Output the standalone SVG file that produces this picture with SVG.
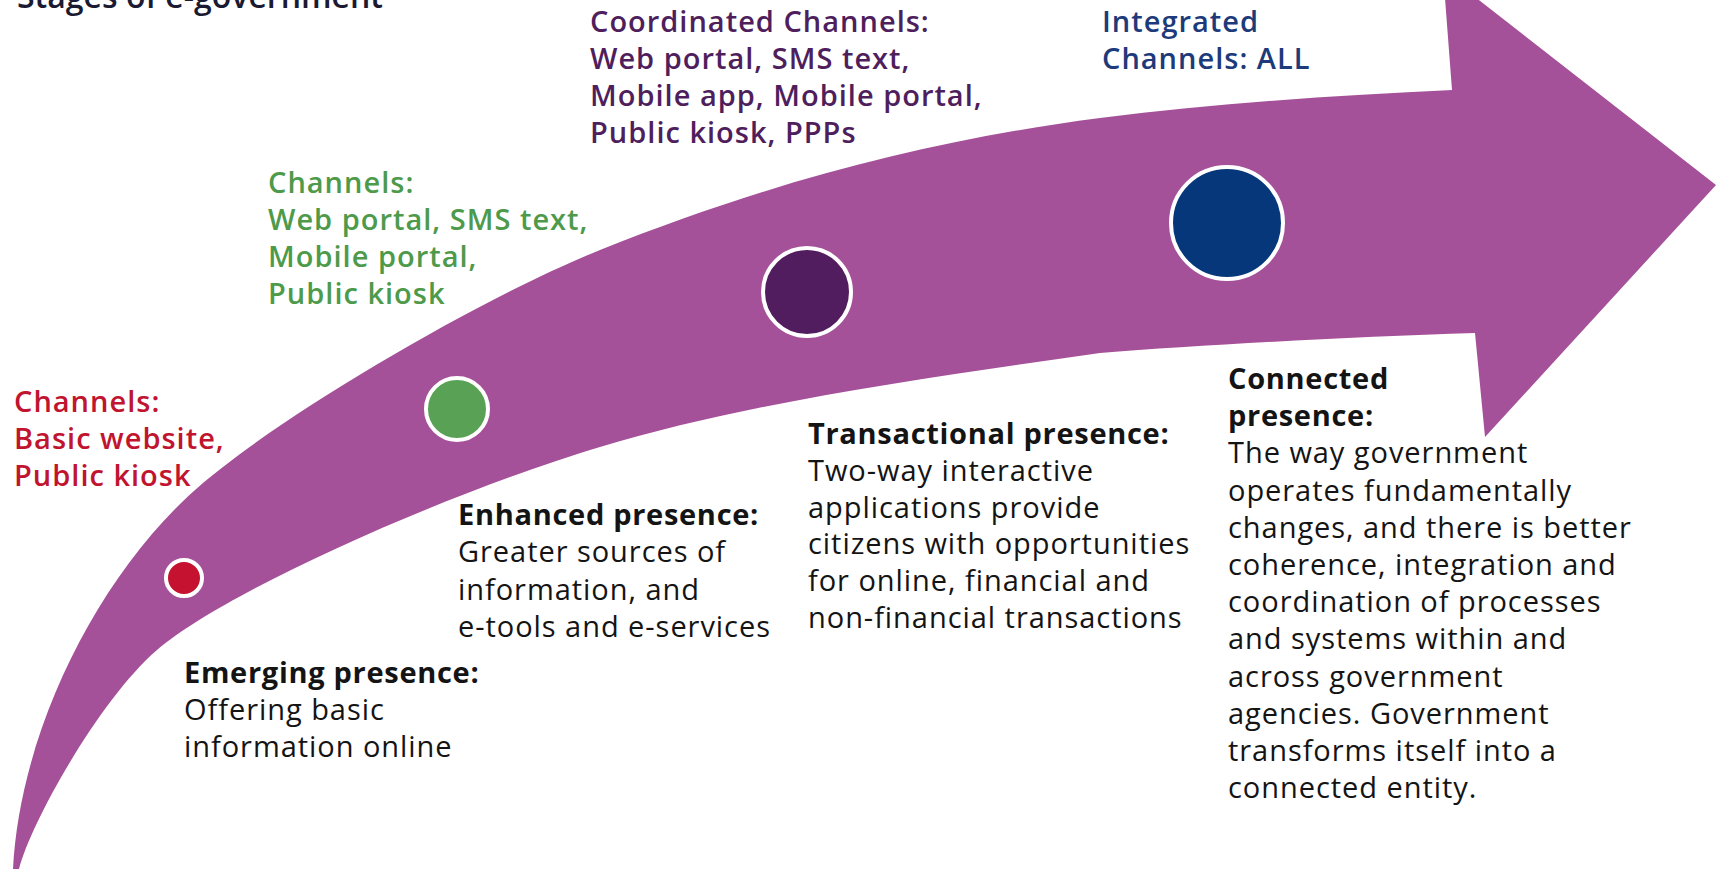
<svg xmlns="http://www.w3.org/2000/svg" width="1719" height="869" viewBox="0 0 1719 869">
<style>
text{font-family:"Open Sans","Noto Sans","Liberation Sans",sans-serif;font-size:29px}
.body{fill:#141414;letter-spacing:0.95px}
.head{font-weight:700;letter-spacing:0.7px}
.ch{font-weight:600;letter-spacing:1px}
.title{font-weight:600;font-size:32px;fill:#1a1a33}
.red{fill:#c0142f}
.green{fill:#4e9a4b}
.purple{fill:#4f1f5d}
.navy{fill:#1d3a7a}
.dot{stroke:#ffffff;stroke-width:4}
</style>
<rect width="1719" height="869" fill="#ffffff"/>
<g id="connectors">
<path id="arrow" fill="#a55199" d="M 13,869 C 20,730 100,570 203,483 C 293,407 490,294 600,250 C 770,182 930,140 1100,118 C 1220,103 1340,95 1452,90 L 1443,-28 L 1716,185 L 1485,437 L 1475,333 C 1350,337 1200,345 1100,353 C 930,377 750,402 600,447 C 450,492 227,590 157,650 C 102,697 32,819 19,869 Z"/>
</g>
<g id="title">
<text x="17" y="8" class="title">Stages of e-government</text>
</g>
<g id="stage-emerging">
<circle class="dot" cx="184" cy="578" r="18" fill="#c41230"/>
<text class="ch red" x="14" y="412"><tspan x="14">Channels:</tspan><tspan x="14" dy="37">Basic website,</tspan><tspan x="14" dy="37">Public kiosk</tspan></text>
<text class="body" x="184" y="683"><tspan x="184" class="head">Emerging presence:</tspan><tspan x="184" dy="37">Offering basic</tspan><tspan x="184" dy="37">information online</tspan></text>
</g>
<g id="stage-enhanced">
<circle class="dot" cx="457" cy="409" r="31" fill="#58a155"/>
<text class="ch green" x="268" y="193"><tspan x="268">Channels:</tspan><tspan x="268" dy="37">Web portal, SMS text,</tspan><tspan x="268" dy="37">Mobile portal,</tspan><tspan x="268" dy="37">Public kiosk</tspan></text>
<text class="body" x="458" y="525"><tspan x="458" class="head">Enhanced presence:</tspan><tspan x="458" dy="37.3">Greater sources of</tspan><tspan x="458" dy="37.3">information, and</tspan><tspan x="458" dy="37.3">e-tools and e-services</tspan></text>
</g>
<g id="stage-transactional">
<circle class="dot" cx="807" cy="292" r="44" fill="#521d5e"/>
<text class="ch purple" x="590" y="32"><tspan x="590">Coordinated Channels:</tspan><tspan x="590" dy="37">Web portal, SMS text,</tspan><tspan x="590" dy="37">Mobile app, Mobile portal,</tspan><tspan x="590" dy="37">Public kiosk, PPPs</tspan></text>
<text class="body" x="808" y="444"><tspan x="808" class="head">Transactional presence:</tspan><tspan x="808" dy="36.8">Two-way interactive</tspan><tspan x="808" dy="36.8">applications provide</tspan><tspan x="808" dy="36.8">citizens with opportunities</tspan><tspan x="808" dy="36.8">for online, financial and</tspan><tspan x="808" dy="36.8">non-financial transactions</tspan></text>
</g>
<g id="stage-connected">
<circle class="dot" cx="1227" cy="223" r="56" fill="#06377a"/>
<text class="ch navy" x="1102" y="32"><tspan x="1102">Integrated</tspan><tspan x="1102" dy="37">Channels: ALL</tspan></text>
<text class="body" x="1228" y="389"><tspan x="1228" class="head">Connected</tspan><tspan x="1228" dy="37.2" class="head">presence:</tspan><tspan x="1228" dy="37.2">The way government</tspan><tspan x="1228" dy="37.2">operates fundamentally</tspan><tspan x="1228" dy="37.2">changes, and there is better</tspan><tspan x="1228" dy="37.2">coherence, integration and</tspan><tspan x="1228" dy="37.2">coordination of processes</tspan><tspan x="1228" dy="37.2">and systems within and</tspan><tspan x="1228" dy="37.2">across government</tspan><tspan x="1228" dy="37.2">agencies. Government</tspan><tspan x="1228" dy="37.2">transforms itself into a</tspan><tspan x="1228" dy="37.2">connected entity.</tspan></text>
</g>
</svg>
